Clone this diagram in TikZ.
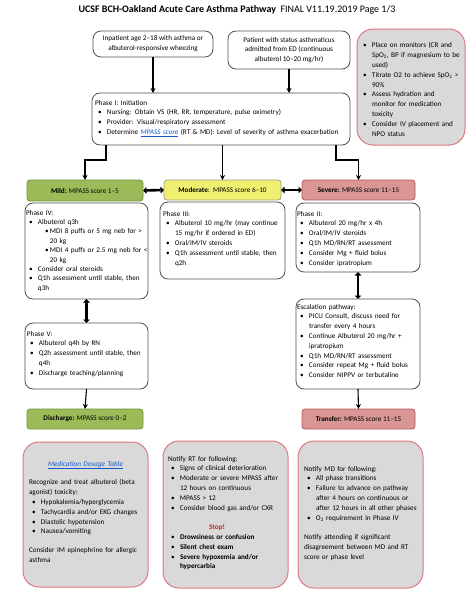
\documentclass[tikz,border=0pt]{standalone}
\usepackage{fontspec}
\setmainfont{Carlito}
\usetikzlibrary{arrows.meta}
\definecolor{mildfill}{RGB}{155,187,89}
\definecolor{milddraw}{RGB}{118,146,60}
\definecolor{modfill}{RGB}{240,240,112}
\definecolor{moddraw}{RGB}{160,160,130}
\definecolor{sevfill}{RGB}{217,150,148}
\definecolor{sevdraw}{RGB}{180,90,90}
\definecolor{greyfill}{RGB}{217,217,217}
\definecolor{greydraw}{RGB}{222,120,128}
\definecolor{boxdraw}{RGB}{80,80,80}
\definecolor{linkblue}{RGB}{20,90,200}
\definecolor{stopred}{RGB}{210,30,30}
\newcommand{\bxfont}{\fontsize{7.2}{9.8}\selectfont}
\newcommand{\bl}[1]{\par\noindent\hangindent=12pt\hangafter=1\makebox[12pt][l]{\hspace{3pt}•}#1}
\newcommand{\sbl}[1]{\par\noindent\hangindent=24pt\hangafter=1\hspace{19pt}\makebox[5pt][l]{•}#1}
\newcommand{\nl}{\hfil\break}
\newcommand{\lnk}[1]{\textcolor{linkblue}{\itshape\underline{#1}}}
\begin{document}
\begin{tikzpicture}[x=1pt,y=-1pt,
  every node/.style={inner sep=0pt, outer sep=0pt},
  txt/.style={anchor=north west, align=left, font=\bxfont, text width=170pt},
  wbox/.style={draw=boxdraw, line width=0.8pt, rounded corners=8pt, fill=white, anchor=north west, font=\bxfont},
  gbox/.style={draw=greydraw, line width=1pt, rounded corners=16pt, fill=greyfill, anchor=north west},
  cbox/.style={rounded corners=3pt, line width=0.8pt, anchor=north west, font=\bxfont, align=center},
  arr/.style={line width=1.1pt, -{Stealth[length=5pt,width=5pt]}},
  dbl/.style={line width=2.6pt, {Triangle[length=3.5pt,width=6.5pt]}-{Triangle[length=3.5pt,width=6.5pt]}}
]
\useasboundingbox (0,0) rectangle (474,597);
\node[font=\fontsize{10}{12}\selectfont] (title) at (237,10) {\textbf{UCSF BCH-Oakland Acute Care Asthma Pathway}\ \ FINAL V11.19.2019 Page 1/3};

\node[wbox, minimum width=120pt, minimum height=26pt, align=center] (a) at (93,31) {Inpatient age 2–18 with asthma or\\albuterol-responsive wheezing};
\node[wbox, minimum width=122pt, minimum height=38pt, align=center] (b) at (228,31) {Patient with status asthmaticus\\admitted from ED (continuous\\albuterol 10–20 mg/hr)};

\node[gbox, minimum width=108pt, minimum height=116pt] (c) at (357,29) {};
\node[txt] (ct) at (360,38) {\bl{Place on monitors (CR and\nl SpO\textsubscript{2}, BP if magnesium to be\nl used)}\bl{Titrate O2 to achieve SpO\textsubscript{2} >\nl 90\%}\bl{Assess hydration and\nl monitor for medication\nl toxicity}\bl{Consider IV placement and\nl NPO status}\par};

\node[wbox, minimum width=258pt, minimum height=52pt] (p1) at (92,93) {};
\node[txt, text width=254pt] (p1t) at (95,100) {\noindent Phase I: Initiation\bl{Nursing: Obtain VS (HR, RR, temperature, pulse oximetry)}\bl{Provider: Visual/respiratory assessment}\bl{Determine \lnk{MPASS score} (RT \& MD): Level of severity of asthma exacerbation}\par};

\node[cbox, fill=mildfill, draw=milddraw, minimum width=116pt, minimum height=21pt] (mild) at (27,180) {\textbf{Mild:} MPASS score 1–5};
\node[cbox, fill=modfill, draw=moddraw, minimum width=117pt, minimum height=20pt] (mod) at (164,180) {\textbf{Moderate}:\ \ MPASS score 6–10};
\node[cbox, fill=sevfill, draw=sevdraw, minimum width=113pt, minimum height=20pt] (sev) at (302,180) {\textbf{Severe:} MPASS score 11–15};

\node[wbox, minimum width=123pt, minimum height=96pt] (p4) at (25,203) {};
\node[txt, font=\fontsize{7.2}{9.4}\selectfont] (p4t) at (26,210) {\noindent Phase IV:\bl{Albuterol q3h}\sbl{MDI 8 puffs or 5 mg neb for >\nl 20 kg}\sbl{MDI 4 puffs or 2.5 mg neb for <\nl 20 kg}\bl{Consider oral steroids}\bl{Q1h assessment until stable, then\nl q3h}\par};

\node[wbox, minimum width=123pt, minimum height=66pt] (p5) at (25,323) {};
\node[txt] (p5t) at (27,331) {\noindent Phase V:\bl{Albuterol q4h by RN}\bl{Q2h assessment until stable, then\nl q4h}\bl{Discharge teaching/planning}\par};

\node[cbox, fill=mildfill, draw=milddraw, minimum width=116pt, minimum height=20pt] (dis) at (27,409) {\textbf{Discharge:} MPASS score 0–2};

\node[gbox, minimum width=125pt, minimum height=145pt] (med) at (23,442) {};
\node[txt] (medt) at (29,461) {\noindent\makebox[113pt][c]{\lnk{Medication Dosage Table}}\par\vspace{9pt}\noindent Recognize and treat albuterol (beta\nl agonist) toxicity:\bl{Hypokalemia/hyperglycemia}\bl{Tachycardia and/or EKG changes}\bl{Diastolic hypotension}\bl{Nausea/vomiting}\par\vspace{9pt}\noindent Consider IM epinephrine for allergic\nl asthma\par};

\node[wbox, minimum width=125pt, minimum height=77pt] (p3) at (160,202) {};
\node[txt] (p3t) at (163,211) {\noindent Phase III:\bl{Albuterol 10 mg/hr (may continue\nl 15 mg/hr if ordered in ED)}\bl{Oral/IM/IV steroids}\bl{Q1h assessment until stable, then\nl q2h}\par};

\node[wbox, minimum width=124pt, minimum height=69pt] (p2) at (296,203) {};
\node[txt] (p2t) at (297,211) {\noindent Phase II:\bl{Albuterol 20 mg/hr x 4h}\bl{Oral/IM/IV steroids}\bl{Q1h MD/RN/RT assessment}\bl{Consider Mg + fluid bolus}\bl{Consider ipratropium}\par};

\node[wbox, minimum width=124pt, minimum height=90pt] (esc) at (296,299) {};
\node[txt] (esct) at (297,304) {\noindent Escalation pathway:\bl{PICU Consult, discuss need for\nl transfer every 4 hours}\bl{Continue Albuterol 20 mg/hr +\nl ipratropium}\bl{Q1h MD/RN/RT assessment}\bl{Consider repeat Mg + fluid bolus}\bl{Consider NIPPV or terbutaline}\par};

\node[cbox, fill=sevfill, draw=sevdraw, minimum width=113pt, minimum height=20pt] (tr) at (302,409) {\textbf{Transfer:} MPASS score 11–15};

\node[gbox, minimum width=125pt, minimum height=147pt] (rt) at (163,441) {};
\node[txt] (rtt) at (168,456) {\noindent Notify RT for following:\bl{Signs of clinical deterioration}\bl{Moderate or severe MPASS after\nl 12 hours on continuous}\bl{MPASS > 12}\bl{Consider blood gas and/or CXR}\par\vspace{9.8pt}\noindent\makebox[98pt][c]{\textcolor{stopred}{\bfseries Stop!}}\bl{\textbf{Drowsiness or confusion}}\bl{\textbf{Silent chest exam}}\bl{\textbf{Severe hypoxemia and/or\nl hypercarbia}}\par};

\node[gbox, minimum width=125pt, minimum height=147pt] (md) at (298,441) {};
\node[txt] (mdt) at (304,466) {\noindent Notify MD for following:\bl{All phase transitions}\bl{Failure to advance on pathway\nl after 4 hours on continuous or\nl after 12 hours in all other phases}\bl{O\textsubscript{2} requirement in Phase IV}\par\vspace{9.8pt}\noindent Notify attending if significant\nl disagreement between MD and RT\nl score or phase level\par};

\draw[arr] (a.south) -- (a.south |- p1.north);
\draw[arr] (b.south) -- (b.south |- p1.north);
\draw[arr] ([xshift=14pt]p1.south west) -- ++(0,15) -| (mild.north);
\draw[arr] (mod.north |- p1.south) -- (mod.north);
\draw[arr] ([xshift=-14pt]p1.south east) -- ++(0,15) -| (sev.north);
\draw[dbl] (mild.east) -- (mod.west);
\draw[dbl] (mod.east) -- (sev.west);
\draw[dbl] (p4.south) -- (p5.north);
\draw[arr] (p5.south) -- (dis.north);
\draw[dbl] (p2.south) -- (esc.north);
\draw[arr] (esc.south) -- (tr.north);
\end{tikzpicture}
\end{document}
